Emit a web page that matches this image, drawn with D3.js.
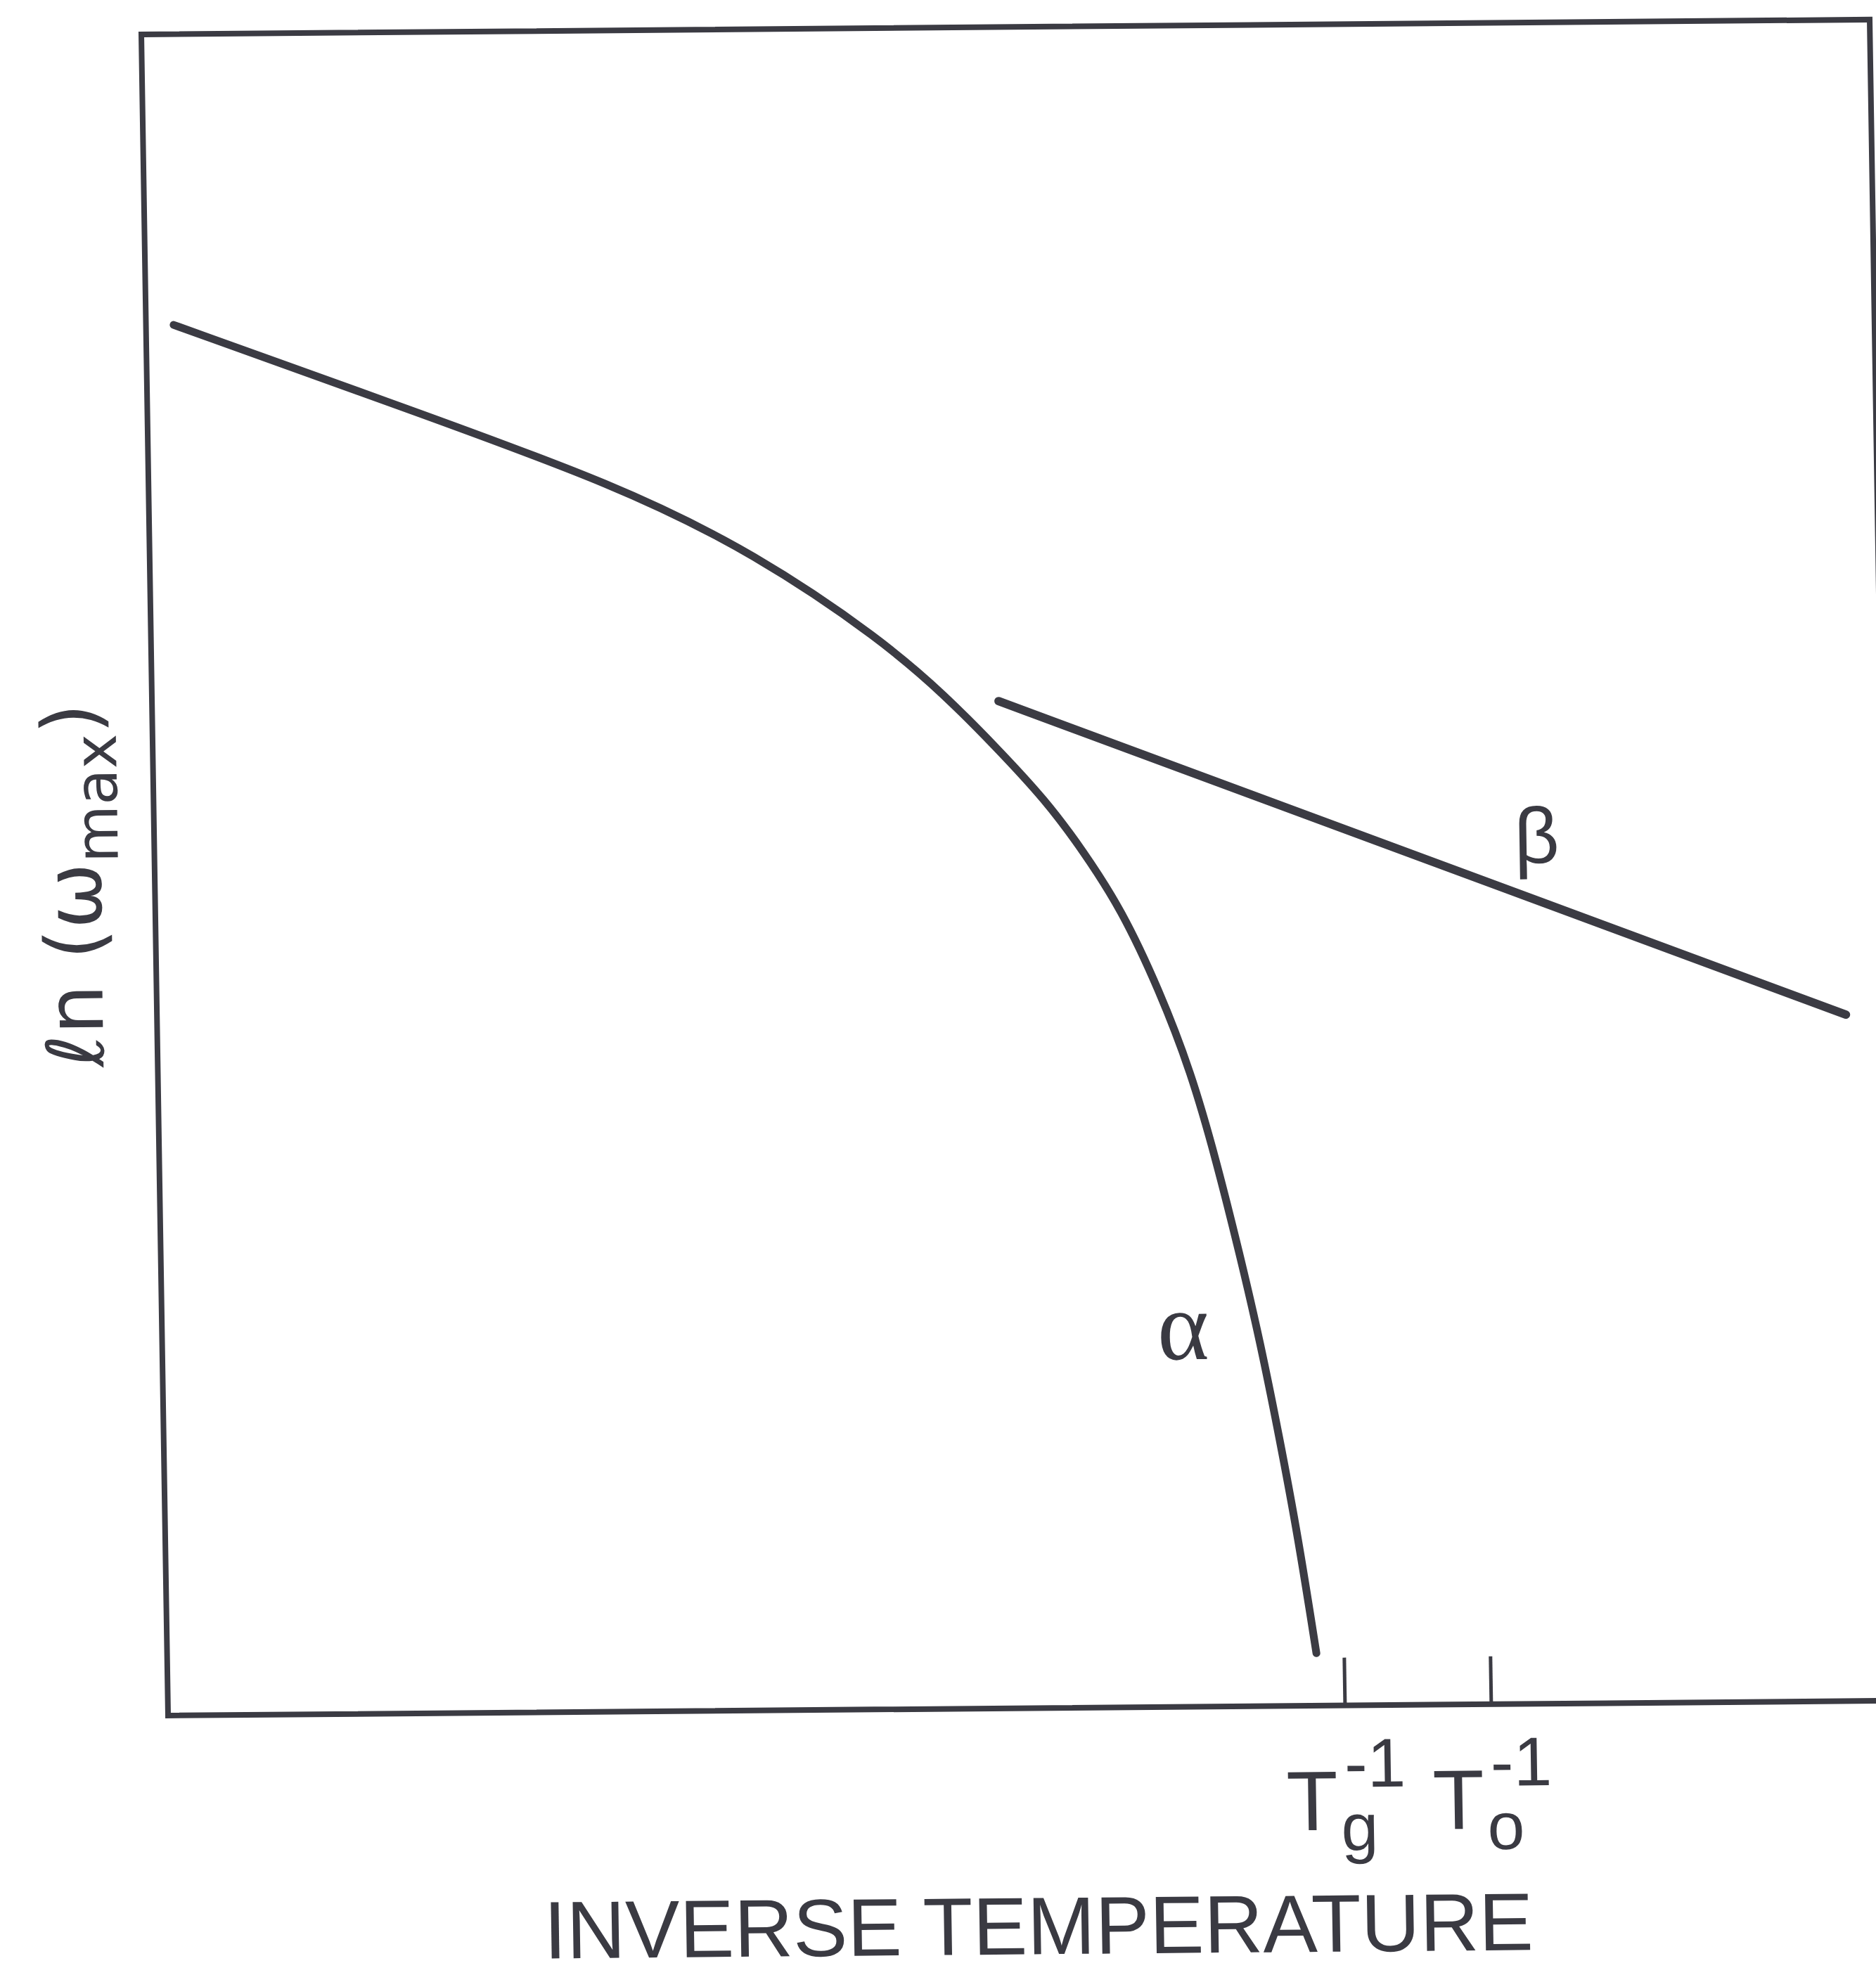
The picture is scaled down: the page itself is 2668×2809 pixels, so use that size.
<!DOCTYPE html>
<html>
<head>
<meta charset="utf-8">
<script src="https://cdn.jsdelivr.net/npm/d3@7"></script>
<style>
  body { margin: 0; background: #fff; }
  svg { display: block; background: #fff; }
  text { fill: #3a3a42; font-family: "Liberation Sans", Arial, sans-serif; }
</style>
</head>
<body>
<svg id="chart" width="2668" height="2809"></svg>
<script>
// arbitrary units: x = inverse temperature, y = ln(w_max)
const alphaX = [0.160, 1.479, 2.713, 3.508, 4.228, 4.589, 4.873, 5.162, 5.376, 5.591, 5.799, 5.975, 6.113, 6.250, 6.352, 6.454, 6.554, 6.649];
const alphaY = [8.271, 7.770, 7.295, 6.878, 6.361, 6.028, 5.724, 5.399, 5.092, 4.743, 4.268, 3.782, 3.258, 2.654, 2.168, 1.602, 1.003, 0.312];
const betaX = [4.898, 9.771];
const betaY = [5.991, 4.083];
const tickValues = [6.808, 7.654];
const tickSubs = ['g', 'o'];

const svg = d3.select('#chart');
const margin = { top: 49, left: 201 };
const width = 2458;
const height = 2391;
const ink = '#3b3b43';

// the scan is a bit skewed, so the whole plot gets a small shear
const g = svg.append('g')
  .attr('transform', `translate(${margin.left},${margin.top}) matrix(1,-0.0086,0.0159,1,0,0)`);

const x = d3.scaleLinear().domain([0, 10]).range([0, width]);
const y = d3.scaleLinear().domain([0, 10]).range([height, 0]);

// frame
g.append('rect')
  .attr('x', 0)
  .attr('y', 0)
  .attr('width', width)
  .attr('height', height)
  .attr('fill', 'none')
  .attr('stroke', ink)
  .attr('stroke-width', 8);

// inward ticks at Tg and To
const xAxis = g.append('g')
  .attr('transform', `translate(0,${height})`)
  .call(d3.axisBottom(x).tickValues(tickValues).tickSize(-68).tickSizeOuter(0).tickFormat(''));
xAxis.select('.domain').remove();
xAxis.selectAll('.tick line').attr('stroke', ink).attr('stroke-width', 5);

// T, subscript and -1 superscript in one text element per tick
const tickLabels = g.selectAll('.tlabel')
  .data(tickValues)
  .enter()
  .append('text')
  .attr('class', 'tlabel')
  .attr('x', d => x(d) - 85)
  .attr('y', height + 177)
  .attr('font-size', 120);

tickLabels.append('tspan').text('T');
tickLabels.append('tspan')
  .attr('dx', 4)
  .attr('dy', 29)
  .attr('font-size', 95)
  .text((d, i) => tickSubs[i]);
tickLabels.append('tspan')
  .attr('dx', -47)
  .attr('dy', -90)
  .attr('font-size', 98)
  .text('-1');

// axis titles
g.append('text')
  .attr('x', width / 2 + 4)
  .attr('y', height + 350)
  .attr('text-anchor', 'middle')
  .attr('font-size', 116)
  .text('INVERSE TEMPERATURE');

const yTitle = g.append('text')
  .attr('transform', 'translate(-77,1209) rotate(-90)')
  .attr('text-anchor', 'middle')
  .attr('font-size', 112)
  .style('font-family', '"DejaVu Sans", sans-serif');
yTitle.append('tspan').text('\u2113n (\u03c9');
yTitle.append('tspan').attr('dy', 25).attr('font-size', 84).text('max');
yTitle.append('tspan').attr('dy', -25).text(')');

// curves
const smooth = d3.line()
  .x(d => x(d[0]))
  .y(d => y(d[1]))
  .curve(d3.curveBasis);

const straight = d3.line()
  .x(d => x(d[0]))
  .y(d => y(d[1]));

g.append('path')
  .datum(alphaX.map((v, i) => [v, alphaY[i]]))
  .attr('fill', 'none')
  .attr('stroke', ink)
  .attr('stroke-width', 11)
  .attr('stroke-linecap', 'round')
  .attr('stroke-linejoin', 'round')
  .attr('d', smooth);

g.append('path')
  .datum(betaX.map((v, i) => [v, betaY[i]]))
  .attr('fill', 'none')
  .attr('stroke', ink)
  .attr('stroke-width', 12)
  .attr('stroke-linecap', 'round')
  .attr('d', straight);

// curve names
g.append('text')
  .attr('x', x(5.907))
  .attr('y', y(2.067))
  .attr('text-anchor', 'middle')
  .attr('font-size', 140)
  .style('font-family', '"Liberation Serif", serif')
  .text('\u03b1');

g.append('text')
  .attr('x', x(7.998))
  .attr('y', y(5.002))
  .attr('text-anchor', 'middle')
  .attr('font-size', 112)
  .style('font-weight', 300)
  .text('\u03b2');
</script>
</body>
</html>
